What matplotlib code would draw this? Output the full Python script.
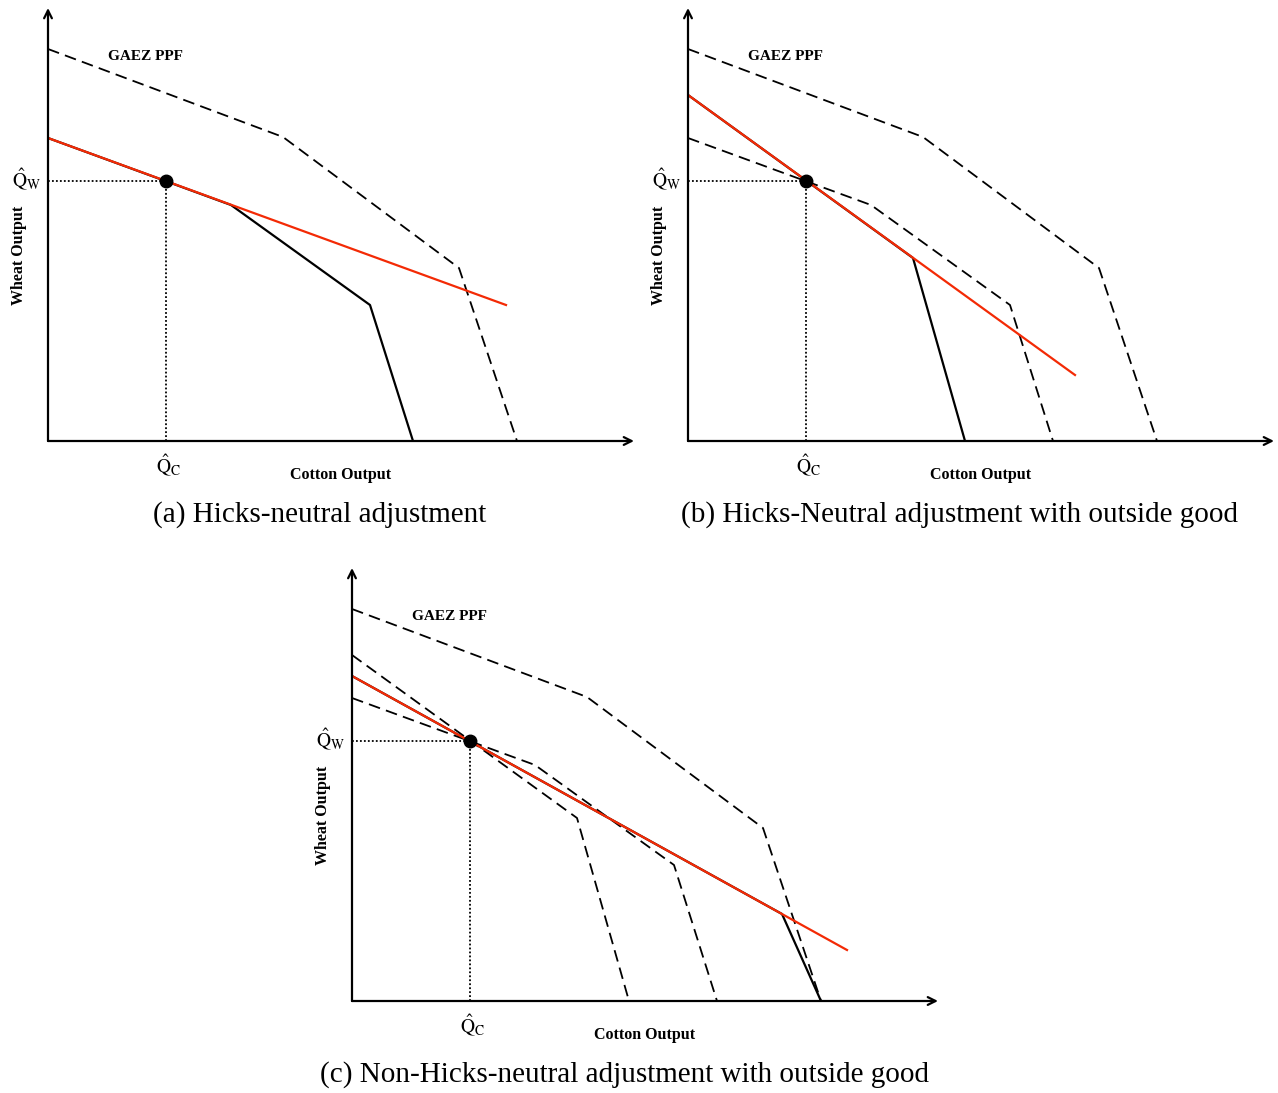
import matplotlib

matplotlib.use("Agg")
import matplotlib.pyplot as plt

plt.rcParams.update(
    {
        "font.family": "Liberation Serif",
        "mathtext.fontset": "stix",
    }
)

RED = "#f32a05"
DASH = (6.5, 3.5)

# all curves are given relative to each panel's origin (cotton, wheat)
gaez_x = [0, 235, 411, 469]
gaez_y = [392, 304, 173, 0]

# panel (a): Hicks-neutral PPF and price line
ppf_a_x = [0, 183, 322, 365]
ppf_a_y = [303, 236, 136, 0]
price_a_x = [0, 458]
price_a_y = [303, 136]

# panel (b): outside good, Hicks-neutral
ppf_b_x = [0, 225, 277]
ppf_b_y = [346, 183, 0]
price_b_x = [0, 387]
price_b_y = [346, 66]

# panel (c): non-Hicks-neutral
ppf_c_x = [0, 430, 469]
ppf_c_y = [325, 87, 0]
price_c_x = [0, 495]
price_c_y = [325, 51]

q_hat = (118, 260)
captions = [
    "(a) Hicks-neutral adjustment",
    "(b) Hicks-Neutral adjustment with outside good",
    "(c) Non-Hicks-neutral adjustment with outside good",
]

W_PX, H_PX = 1278, 1093
fig = plt.figure(figsize=(W_PX / 100, H_PX / 100), dpi=100)


def make_axes(ox, oy):
    # ox, oy: pixel position of the axis corner, measured from the top-left
    ax = fig.add_axes([ox / W_PX, (H_PX - oy) / H_PX, 600 / W_PX, 440 / H_PX])
    ax.set_xlim(0, 600)
    ax.set_ylim(0, 440)
    ax.axis("off")
    return ax


def draw_frame(ax, caption):
    arrow = dict(arrowstyle="->", lw=1.6, color="black", mutation_scale=14,
                 shrinkA=0, shrinkB=0)
    ax.annotate("", xy=(586, 0), xytext=(0, 0), arrowprops=arrow,
                annotation_clip=False)
    ax.annotate("", xy=(0, 433), xytext=(0, 0), arrowprops=arrow,
                annotation_clip=False)
    ax.plot(gaez_x, gaez_y, color="black", lw=1.3, dashes=DASH, clip_on=False)
    ax.text(60, 384, "GAEZ PPF", fontsize=11, fontweight="bold", va="center")
    qx, qy = q_hat
    ax.plot([0, qx], [qy, qy], color="black", lw=1.3, ls=(0, (1, 1.2)))
    ax.plot([qx, qx], [0, qy], color="black", lw=1.3, ls=(0, (1, 1.2)))
    ax.text(-21, qy + 1, r"$\hat{\mathrm{Q}}_\mathrm{W}$", fontsize=14,
            ha="center", va="center")
    ax.text(qx + 3, -25, r"$\hat{\mathrm{Q}}_\mathrm{C}$", fontsize=14,
            ha="center", va="center")
    ax.text(293, -34, "Cotton Output", fontsize=11.5, fontweight="bold",
            ha="center", va="center")
    ax.text(-29, 186, "Wheat Output", fontsize=11.5, fontweight="bold",
            rotation=90, ha="center", va="center")
    ax.text(272, -74, caption, fontsize=21, ha="center", va="center")


# (a)
ax = make_axes(48, 441)
draw_frame(ax, captions[0])
ax.plot(ppf_a_x, ppf_a_y, color="black", lw=1.6)
ax.plot(price_a_x, price_a_y, color=RED, lw=1.6)
ax.plot(*q_hat, "o", color="black", ms=9, zorder=5)

# (b)
ax = make_axes(688, 441)
draw_frame(ax, captions[1])
ax.plot(ppf_a_x, ppf_a_y, color="black", lw=1.3, dashes=DASH)
ax.plot(ppf_b_x, ppf_b_y, color="black", lw=1.6)
ax.plot(price_b_x, price_b_y, color=RED, lw=1.6)
ax.plot(*q_hat, "o", color="black", ms=9, zorder=5)

# (c)
ax = make_axes(352, 1001)
draw_frame(ax, captions[2])
ax.plot(ppf_a_x, ppf_a_y, color="black", lw=1.3, dashes=DASH)
ax.plot(ppf_b_x, ppf_b_y, color="black", lw=1.3, dashes=DASH)
ax.plot(ppf_c_x, ppf_c_y, color="black", lw=1.6)
ax.plot(price_c_x, price_c_y, color=RED, lw=1.6)
ax.plot(*q_hat, "o", color="black", ms=9, zorder=5)

fig.savefig("out.png", dpi=100)
